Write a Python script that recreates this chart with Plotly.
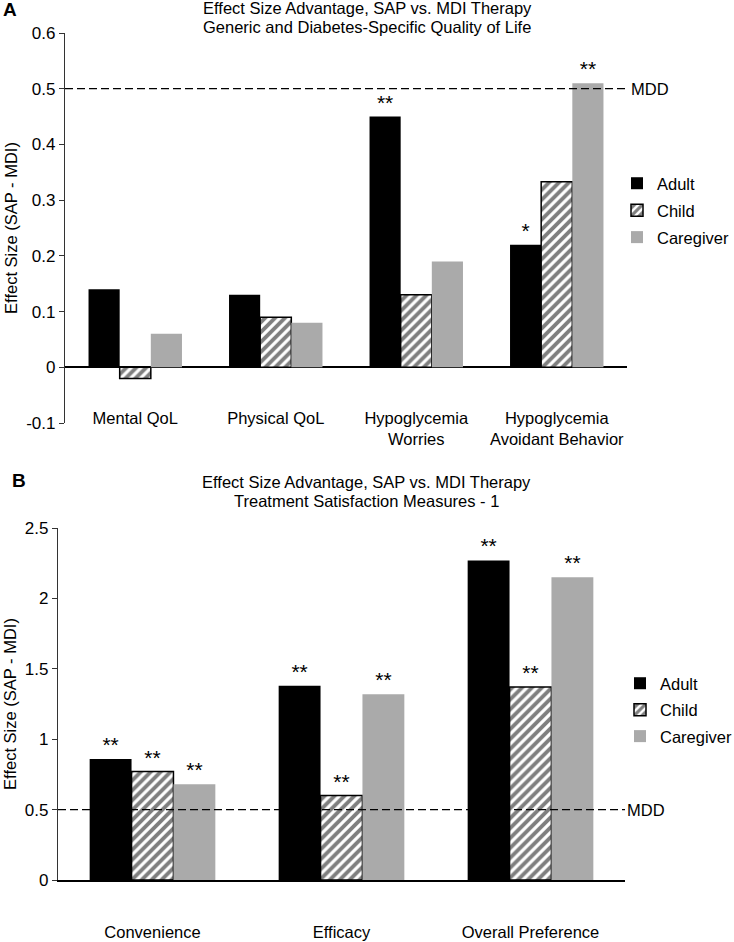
import plotly.graph_objects as go

# ---------------- data ----------------
series = ["Adult", "Child", "Caregiver"]

cats_a = ["Mental QoL", "Physical QoL", "Hypoglycemia<br>Worries", "Hypoglycemia<br>Avoidant Behavior"]
adult_a = [0.14, 0.13, 0.45, 0.22]
child_a = [-0.02, 0.09, 0.13, 0.333]
caregiver_a = [0.06, 0.08, 0.19, 0.51]
stars_adult_a = ["", "", "**", "*"]
stars_child_a = ["", "", "", ""]
stars_caregiver_a = ["", "", "", "**"]
ytickvals_a = [-0.1, 0, 0.1, 0.2, 0.3, 0.4, 0.5, 0.6]
yticktext_a = ["-0.1", "0", "0.1", "0.2", "0.3", "0.4", "0.5", "0.6"]

cats_b = ["Convenience", "Efficacy", "Overall Preference"]
adult_b = [0.86, 1.38, 2.27]
child_b = [0.77, 0.60, 1.37]
caregiver_b = [0.68, 1.32, 2.15]
stars_adult_b = ["**", "**", "**"]
stars_child_b = ["**", "**", "**"]
stars_caregiver_b = ["**", "**", "**"]
ytickvals_b = [0, 0.5, 1, 1.5, 2, 2.5]
yticktext_b = ["0", "0.5", "1", "1.5", "2", "2.5"]

mdd = 0.5

title_a_lines = ["Effect Size Advantage, SAP vs. MDI Therapy",
                 "Generic and Diabetes-Specific Quality of Life"]
title_b_lines = ["Effect Size Advantage, SAP vs. MDI Therapy",
                 "Treatment Satisfaction Measures - 1"]
ytitle = "Effect Size (SAP - MDI)"

# ---------------- style ----------------
FONT = "Liberation Sans, Arial, sans-serif"
FS = 16.5
TICKFS = 17
W, H = 734, 942
BLACK = "#000000"
GRAY = "#AAAAAA"


def px_x(p):
    return p / W


def px_y(p):
    return 1 - p / H


fig = go.Figure()

styles = {
    "Adult": dict(color=BLACK, line=dict(color=BLACK, width=0)),
    "Child": dict(color="white", line=dict(color=BLACK, width=1.5),
                  pattern=dict(shape="/", fgcolor=BLACK, bgcolor="white", size=7, solidity=0.55)),
    "Caregiver": dict(color=GRAY, line=dict(color=GRAY, width=0)),
}

panels = [
    ("x", "y", "legend", cats_a, [adult_a, child_a, caregiver_a],
     [stars_adult_a, stars_child_a, stars_caregiver_a]),
    ("x2", "y2", "legend2", cats_b, [adult_b, child_b, caregiver_b],
     [stars_adult_b, stars_child_b, stars_caregiver_b]),
]

for xa, ya, lg, cats, vals, stars in panels:
    for name, v, st in zip(series, vals, stars):
        fig.add_trace(go.Bar(
            x=cats, y=v, name=name, marker=styles[name],
            text=st, textposition="outside", cliponaxis=False,
            outsidetextfont=dict(family=FONT, size=21, color=BLACK),
            xaxis=xa, yaxis=ya, legend=lg, legendgroup=lg + name,
            showlegend=True, hoverinfo="skip",
        ))

axis_common = dict(showgrid=False, automargin=False)

fig.update_layout(
    width=W, height=H,
    margin=dict(l=0, r=0, t=0, b=0, autoexpand=False),
    paper_bgcolor="white", plot_bgcolor="white",
    barmode="group", bargap=0.335, bargroupgap=0,
    font=dict(family=FONT, size=FS, color=BLACK),
    xaxis=dict(domain=[px_x(65), px_x(627)], anchor="y", showline=False, ticks="",
               ticklabelstandoff=-17, tickfont=dict(family=FONT, size=FS, color=BLACK),
               **axis_common),
    yaxis=dict(domain=[px_y(423), px_y(33)], anchor="x", range=[-0.1, 0.6],
               tickvals=ytickvals_a, ticktext=yticktext_a, showline=True, linecolor="#333333",
               linewidth=1.2, ticks="outside", ticklen=5, tickcolor="#333333",
               tickfont=dict(family=FONT, size=TICKFS, color=BLACK),
               zeroline=True, zerolinecolor=BLACK, zerolinewidth=1.5,
               title=dict(text=ytitle, font=dict(family=FONT, size=FS), standoff=4), **axis_common),
    xaxis2=dict(domain=[px_x(58), px_x(625)], anchor="y2", showline=True, linecolor=BLACK,
                linewidth=1.5, ticks="", ticklabelstandoff=36,
                tickfont=dict(family=FONT, size=FS, color=BLACK), **axis_common),
    yaxis2=dict(domain=[px_y(880), px_y(528)], anchor="x2", range=[0, 2.5],
                tickvals=ytickvals_b, ticktext=yticktext_b, showline=True, linecolor="#333333",
                linewidth=1.2, ticks="outside", ticklen=5, tickcolor="#333333",
                tickfont=dict(family=FONT, size=TICKFS, color=BLACK),
                zeroline=False,
                title=dict(text=ytitle, font=dict(family=FONT, size=FS), standoff=4), **axis_common),
    legend=dict(x=px_x(617), y=px_y(166), xanchor="left", yanchor="top",
                font=dict(family=FONT, size=FS), tracegroupgap=2.5, itemwidth=30,
                bgcolor="rgba(0,0,0,0)"),
    legend2=dict(x=px_x(620), y=px_y(666), xanchor="left", yanchor="top",
                 font=dict(family=FONT, size=FS), tracegroupgap=2, itemwidth=30,
                 bgcolor="rgba(0,0,0,0)"),
    showlegend=True,
)

# MDD reference lines
for xa, ya, xlab in [("x", "y", 629), ("x2", "y2", 625)]:
    fig.add_shape(type="line", xref=f"{xa} domain", yref=ya, x0=0, x1=1, y0=mdd, y1=mdd,
                  line=dict(color=BLACK, width=1.3, dash="8px,4px"), layer="above")
    fig.add_annotation(xref="paper", yref=ya, x=px_x(xlab), y=mdd, text="MDD",
                       showarrow=False, xanchor="left", yanchor="middle",
                       font=dict(family=FONT, size=FS, color=BLACK))

# titles (one annotation per line) and panel letters
for lines, cx, ys in [(title_a_lines, 367, [8, 27]), (title_b_lines, 366, [482, 501])]:
    for txt, yy in zip(lines, ys):
        fig.add_annotation(xref="paper", yref="paper", x=px_x(cx), y=px_y(yy), text=txt,
                           showarrow=False, xanchor="center", yanchor="middle",
                           font=dict(family=FONT, size=FS, color=BLACK))
fig.add_annotation(xref="paper", yref="paper", x=px_x(1), y=px_y(10), text="<b>A</b>",
                   showarrow=False, xanchor="left", yanchor="middle",
                   font=dict(family=FONT, size=19, color=BLACK))
fig.add_annotation(xref="paper", yref="paper", x=px_x(10), y=px_y(480), text="<b>B</b>",
                   showarrow=False, xanchor="left", yanchor="middle",
                   font=dict(family=FONT, size=19, color=BLACK))

# remove the browser's default page margin so the figure sits at the window's corner
fig.write_html("out.html", config={"displayModeBar": False},
               post_script="document.body.style.margin='0';")
